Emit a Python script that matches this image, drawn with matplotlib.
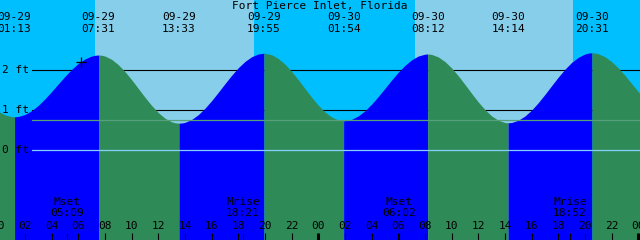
import matplotlib.pyplot as plt
import numpy as np

# tide curve (hours since 09-29 00:00, feet)
curve_t = [-0.5, 0, 0.5, 1, 1.217, 1.5, 2, 2.5, 3, 3.5, 4, 4.5, 5, 5.5, 6, 6.5, 7, 7.25, 7.517,
           7.75, 8, 8.5, 9, 9.5, 10, 10.5, 11, 11.5, 12, 12.5, 13, 13.25, 13.55,
           13.8, 14, 14.5, 15, 15.5, 16, 16.5, 17, 17.5, 18, 18.5, 19, 19.5, 19.917,
           20, 20.5, 21, 21.5, 22, 22.5, 23, 23.5, 24, 24.5, 25, 25.5, 25.9,
           26, 26.5, 27, 27.5, 28, 28.5, 29, 29.5, 30, 30.5, 31, 31.5, 32, 32.2,
           32.5, 33, 33.5, 34, 34.5, 35, 35.5, 36, 36.5, 37, 37.5, 38, 38.233,
           38.5, 39, 39.5, 40, 40.5, 41, 41.5, 42, 42.5, 43, 43.5, 44, 44.25, 44.517,
           44.75, 45, 45.5, 46, 46.5, 47, 47.5, 48, 48.5]
curve_ft = [1.091, 0.965, 0.878, 0.834, 0.83, 0.838, 0.888, 0.983, 1.116, 1.280, 1.462, 1.654,
            1.842, 2.016, 2.165, 2.277, 2.350, 2.368, 2.375,
            2.369, 2.348, 2.266, 2.133, 1.959, 1.756, 1.537, 1.318, 1.112, 0.934, 0.794,
            0.704, 0.681, 0.67,
            0.677, 0.691, 0.764, 0.885, 1.045, 1.235, 1.444, 1.660, 1.868, 2.058, 2.215,
            2.332, 2.401, 2.42,
            2.419, 2.381, 2.287, 2.144, 1.963, 1.755, 1.534, 1.317, 1.118, 0.948, 0.823,
            0.749, 0.73,
            0.731, 0.767, 0.853, 0.982, 1.148, 1.339, 1.544, 1.751, 1.946, 2.117, 2.255,
            2.350, 2.396, 2.40,
            2.390, 2.326, 2.210, 2.049, 1.854, 1.637, 1.414, 1.199, 1.008, 0.851, 0.742,
            0.686, 0.68,
            0.688, 0.744, 0.850, 1.000, 1.185, 1.392, 1.610, 1.824, 2.021, 2.190, 2.318,
            2.401, 2.422, 2.43,
            2.424, 2.406, 2.330, 2.209, 2.051, 1.863, 1.660, 1.454, 1.259]

# tide extremes
tide_t = [1.217, 7.517, 13.55, 19.917, 25.9, 32.2, 38.233, 44.517]
tide_date = ["09-29", "09-29", "09-29", "09-29", "09-30", "09-30", "09-30", "09-30"]
tide_time = ["01:13", "07:31", "13:33", "19:55", "01:54", "08:12", "14:14", "20:31"]

# sun / moon
day_spans = [(7.25, 19.17), (31.25, 43.12)]
night_spans = [(-1, 7.25), (19.17, 31.25), (43.12, 49)]
moon_t = [5.15, 18.35, 30.033, 42.867]
moon_name = ["Mset", "Mrise", "Mset", "Mrise"]
moon_time = ["05:09", "18:21", "06:02", "18:52"]

hour_ticks = list(range(0, 49, 2))
hour_labels = ["%02d" % (h % 24) for h in hour_ticks]
depth_ft = [2, 1, 0]
mean_ft = 0.74
now_t, now_ft = 6.2, 2.2

title = "Fort Pierce Inlet, Florida"

NIGHT = "#00bfff"
DAY = "#87ceeb"
FLOOD = "#0000ff"
EBB = "#2e8b57"
FONT = dict(family="DejaVu Sans Mono", fontsize=8.0, color="black")

fig = plt.figure(figsize=(6.4, 2.4), dpi=100)
ax = fig.add_axes([0, 0, 1, 1])
ax.set_axis_off()
ax.set_xlim(0.125, 48.125)
ax.set_ylim(-2.25, 3.75)

for a, b in night_spans:
    ax.axvspan(a, b, color=NIGHT, lw=0, zorder=0)
for a, b in day_spans:
    ax.axvspan(a, b, color=DAY, lw=0, zorder=0)

# depth lines (under the water)
x0 = 32 / 640
for d in depth_ft:
    if d != 0:
        ax.axhline(d, xmin=x0, color="black", lw=0.8, zorder=1)

# water, blue while rising, green while falling
t = np.array(curve_t)
h = np.array(curve_ft)
bounds = [curve_t[0]] + tide_t + [curve_t[-1]]
for a, b in zip(bounds[:-1], bounds[1:]):
    m = (t >= a) & (t <= b)
    rising = h[m][-1] > h[m][0]
    ax.fill_between(t[m], h[m], -2.25, color=FLOOD if rising else EBB, lw=0, zorder=2)

ax.axhline(0, xmin=x0, color="#87cefa", lw=0.9, zorder=3)
ax.axhline(mean_ft, xmin=x0, color="#56a07c", lw=0.9, zorder=3)

for d in depth_ft:
    ax.text(0.003, d, "%d ft" % d, transform=ax.get_yaxis_transform(),
            ha="left", va="center", zorder=5, **FONT)

ax.plot([now_t], [now_ft], marker="+", color="black", ms=7, mew=0.9, zorder=4)

# header
tr = ax.get_xaxis_transform()
ax.text(0.5, 1 - 6 / 240, title, transform=ax.transAxes, ha="center", va="center", **FONT)
for x, d, tm in zip(tide_t, tide_date, tide_time):
    ax.text(x, 1 - 17.5 / 240, d, transform=tr, ha="center", va="center", **FONT)
    ax.text(x, 1 - 29.5 / 240, tm, transform=tr, ha="center", va="center", **FONT)

# moon events
for x, n, tm in zip(moon_t, moon_name, moon_time):
    ax.text(x, 1 - 202 / 240, n, transform=tr, ha="center", va="center", **FONT)
    ax.text(x, 1 - 213 / 240, tm, transform=tr, ha="center", va="center", **FONT)

# bottom ticks and hour labels
tick_top = 1 - 233 / 240
for x, lab in zip(hour_ticks, hour_labels):
    lw = 2.2 if lab == "00" else 0.8
    ax.plot([x, x], [tick_top, 0], transform=tr, color="black", lw=lw,
            solid_capstyle="butt", zorder=4, clip_on=False)
    ax.text(x, 1 - 226 / 240, lab, transform=tr, ha="center", va="center", **FONT)
for x in moon_t:
    ax.plot([x, x], [tick_top, 0], transform=tr, color="black", lw=0.8,
            solid_capstyle="butt", zorder=4)

fig.savefig("out.png", dpi=100)
